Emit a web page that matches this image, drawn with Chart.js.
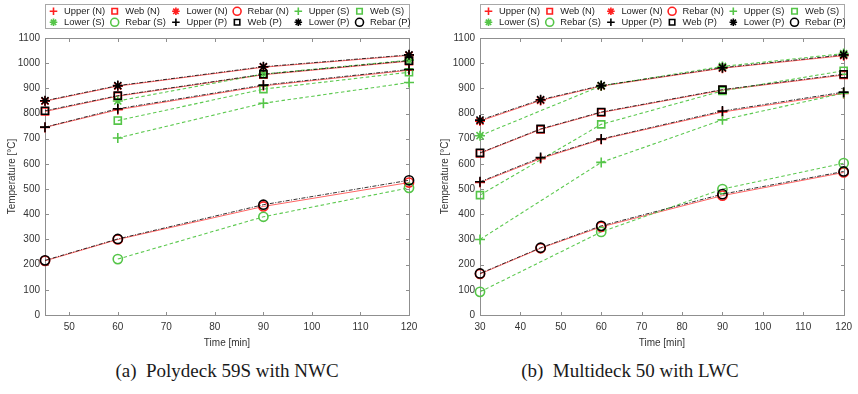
<!DOCTYPE html>
<html><head><meta charset="utf-8">
<script src="https://cdn.jsdelivr.net/npm/chart.js@4/dist/chart.umd.min.js"></script>
<style>
html,body{margin:0;padding:0;background:#fff;}
#wrap{position:relative;width:858px;height:394px;overflow:hidden;background:#fff;}
canvas{position:absolute;top:0;}
.cap{position:absolute;top:360px;font-family:"Liberation Serif","Times New Roman",serif;font-size:19px;color:#1a1a1a;white-space:nowrap;transform:translateX(-50%);line-height:22px;}
</style></head><body>
<div id="wrap">
<canvas id="ca" width="430" height="352" style="left:0"></canvas>
<canvas id="cb" width="428" height="352" style="left:430px"></canvas>
<div class="cap" style="left:227px">(a)&nbsp; Polydeck 59S with NWC</div>
<div class="cap" style="left:630px">(b)&nbsp; Multideck 50 with LWC</div>
</div>
<script>
// ---------- data ----------
const seriesNames = ['Upper', 'Web', 'Lower', 'Rebar'];
const groupNames = ['N', 'S', 'P'];

// (a) Polydeck 59S with NWC
const timesA = [45, 60, 90, 120];
const xTicksA = [50, 60, 70, 80, 90, 100, 110, 120];
const A_upperN = [745, 815, 910, 972];
const A_webN   = [808, 869, 954, 1008];
const A_lowerN = [849, 909, 984, 1031];
const A_rebarN = [215, 300, 431, 526];
const A_upperS = [null, 703, 841, 923];
const A_webS   = [null, 772, 897, 964];
const A_lowerS = [null, 850, 957, 1012];
const A_rebarS = [null, 222, 390, 505];
const A_upperP = [746, 819, 913, 975];
const A_webP   = [811, 871, 956, 1010];
const A_lowerP = [851, 911, 986, 1033];
const A_rebarP = [217, 302, 438, 535];

// (b) Multideck 50 with LWC
const timesB = [30, 45, 60, 90, 120];
const xTicksB = [30, 40, 50, 60, 70, 80, 90, 100, 110, 120];
const B_upperN = [526, 621, 697, 806, 880];
const B_webN   = [642, 737, 804, 893, 953];
const B_lowerN = [770, 852, 909, 980, 1030];
const B_rebarN = [163, 265, 350, 474, 566];
const B_upperS = [300, null, 606, 775, 881];
const B_webS   = [476, null, 757, 890, 970];
const B_lowerS = [712, null, 910, 987, 1038];
const B_rebarS = [92, null, 330, 500, 603];
const B_upperP = [529, 625, 699, 810, 885];
const B_webP   = [644, 739, 806, 895, 956];
const B_lowerP = [774, 855, 911, 982, 1033];
const B_rebarP = [165, 267, 354, 480, 570];

const yTicks = [0, 100, 200, 300, 400, 500, 600, 700, 800, 900, 1000, 1100];

// ---------- styles ----------
const pointStyles = ['cross', 'rect', 'star', 'circle'];
const pointRadii = [5, 5, 5, 4.6];
const groupStyle = {
  N: {color: '#ff1f1f', line: 'rgba(255,40,40,0.8)', dash: [], width: 0.9, order: 2},
  S: {color: '#55c548', line: '#5dc950', dash: [3.5, 2.5], width: 1.1, order: 1},
  P: {color: '#000000', line: '#000000', dash: [4, 1.5, 1, 1.5], width: 0.8, order: 0}
};
const TEXT = '#333333';
const AXIS = '#8f8f8f';
Chart.defaults.font.family = '"Liberation Sans", Arial, sans-serif';

function buildDatasets(times, groups) {
  const out = [];
  groupNames.forEach(g => {
    const st = groupStyle[g];
    groups[g].forEach((vals, k) => {
      out.push({
        label: seriesNames[k] + ' (' + g + ')',
        data: times.map((t, i) => ({x: t, y: vals[i]})),
        borderColor: st.line,
        borderWidth: st.width,
        borderDash: st.dash,
        pointStyle: pointStyles[k],
        pointRadius: pointRadii[k],
        pointHoverRadius: pointRadii[k],
        pointBorderWidth: 1.6,
        pointBorderColor: st.color,
        pointBackgroundColor: 'rgba(0,0,0,0)',
        fill: false,
        tension: 0,
        spanGaps: true,
        clip: false,
        order: st.order,
        _sym: pointStyles[k],
        _col: st.color
      });
    });
  });
  return out;
}

// frame with inward ticks
const framePlugin = {
  id: 'frame',
  beforeDatasetsDraw(chart) {
    const {ctx, chartArea: {left, right, top, bottom}} = chart;
    const L = Math.round(left) + 0.5, R = Math.round(right) + 0.5;
    const T = Math.round(top) + 0.5, B = Math.round(bottom) + 0.5;
    ctx.save();
    ctx.strokeStyle = AXIS;
    ctx.lineWidth = 1;
    ctx.strokeRect(L, T, R - L, B - T);
    const tl = 3.5;
    ctx.beginPath();
    chart.scales.x.ticks.forEach(t => {
      const px = Math.round(chart.scales.x.getPixelForValue(t.value)) + 0.5;
      ctx.moveTo(px, B); ctx.lineTo(px, B - tl);
      ctx.moveTo(px, T); ctx.lineTo(px, T + tl);
    });
    chart.scales.y.ticks.forEach(t => {
      const py = Math.round(chart.scales.y.getPixelForValue(t.value)) + 0.5;
      ctx.moveTo(L, py); ctx.lineTo(L + tl, py);
      ctx.moveTo(R, py); ctx.lineTo(R - tl, py);
    });
    ctx.stroke();
    ctx.restore();
  }
};

function drawSym(ctx, style, x, y, r, color) {
  ctx.save();
  ctx.strokeStyle = color;
  ctx.lineWidth = 1.6;
  ctx.beginPath();
  if (style === 'cross') {
    ctx.moveTo(x - r, y); ctx.lineTo(x + r, y);
    ctx.moveTo(x, y - r); ctx.lineTo(x, y + r);
  } else if (style === 'rect') {
    const s = r * 0.72;
    ctx.rect(x - s, y - s, 2 * s, 2 * s);
  } else if (style === 'star') {
    const d = r * 0.7071;
    ctx.moveTo(x - r, y); ctx.lineTo(x + r, y);
    ctx.moveTo(x, y - r); ctx.lineTo(x, y + r);
    ctx.moveTo(x - d, y - d); ctx.lineTo(x + d, y + d);
    ctx.moveTo(x - d, y + d); ctx.lineTo(x + d, y - d);
  } else {
    ctx.arc(x, y, r, 0, Math.PI * 2);
  }
  ctx.stroke();
  ctx.restore();
}

// boxed legend, 6 columns x 2 rows
const boxLegend = {
  id: 'boxLegend',
  afterDraw(chart) {
    const {ctx, chartArea: {left, right}} = chart;
    const top = 4.5, h = 24;
    const L = Math.round(left) + 0.5, R = Math.round(right) + 0.5;
    ctx.save();
    ctx.fillStyle = '#fff';
    ctx.fillRect(L, top, R - L, h);
    ctx.strokeStyle = '#a8a8a8';
    ctx.lineWidth = 1;
    ctx.strokeRect(L, top, R - L, h);
    const W = R - L;
    const pitch = (W - 58) / 5;
    ctx.font = '9.4px "Liberation Sans", Arial, sans-serif';
    ctx.fillStyle = '#222';
    ctx.textBaseline = 'middle';
    ctx.textAlign = 'left';
    chart.data.datasets.forEach((ds, i) => {
      const row = Math.floor(i / 6), col = i % 6;
      const sx = L + 8 + col * pitch;
      const sy = top + 6.8 + row * 11;
      const r = ds._sym === 'circle' ? 4 : 3.8;
      drawSym(ctx, ds._sym, sx, sy, r, ds._col);
      ctx.fillText(ds.label, sx + 10.5, sy + 0.5);
    });
    ctx.restore();
  }
};

function makeChart(id, times, xTicks, groups, yW, padRight, yTitlePad) {
  return new Chart(document.getElementById(id), {
    type: 'line',
    data: {datasets: buildDatasets(times, groups)},
    options: {
      responsive: false,
      animation: false,
      events: [],
      layout: {padding: {left: 0, right: padRight, top: 38, bottom: 0}},
      plugins: {legend: {display: false}, tooltip: {enabled: false}},
      scales: {
        x: {
          type: 'linear',
          min: times[0], max: times[times.length - 1],
          afterBuildTicks: s => { s.ticks = xTicks.map(v => ({value: v})); },
          afterFit: s => { s.height = 37; },
          grid: {display: false, drawTicks: false},
          border: {display: false},
          ticks: {font: {size: 10}, color: TEXT, padding: 6, maxRotation: 0, autoSkip: false, callback: v => String(v)},
          title: {display: true, text: 'Time [min]', font: {size: 10}, color: TEXT, padding: {top: 0, bottom: 3}}
        },
        y: {
          type: 'linear',
          min: 0, max: 1100,
          afterBuildTicks: s => { s.ticks = yTicks.map(v => ({value: v})); },
          afterFit: s => { s.width = yW; },
          grid: {display: false, drawTicks: false},
          border: {display: false},
          ticks: {font: {size: 10}, color: TEXT, padding: 5, autoSkip: false, callback: v => String(v)},
          title: {display: true, text: 'Temperature [°C]', font: {size: 10}, color: TEXT, padding: {top: yTitlePad, bottom: 0}}
        }
      }
    },
    plugins: [framePlugin, boxLegend]
  });
}

makeChart('ca', timesA, xTicksA, {
  N: [A_upperN, A_webN, A_lowerN, A_rebarN],
  S: [A_upperS, A_webS, A_lowerS, A_rebarS],
  P: [A_upperP, A_webP, A_lowerP, A_rebarP]
}, 45, 21, 6);

makeChart('cb', timesB, xTicksB, {
  N: [B_upperN, B_webN, B_lowerN, B_rebarN],
  S: [B_upperS, B_webS, B_lowerS, B_rebarS],
  P: [B_upperP, B_webP, B_lowerP, B_rebarP]
}, 50, 11, 9);
</script>
</body></html>
